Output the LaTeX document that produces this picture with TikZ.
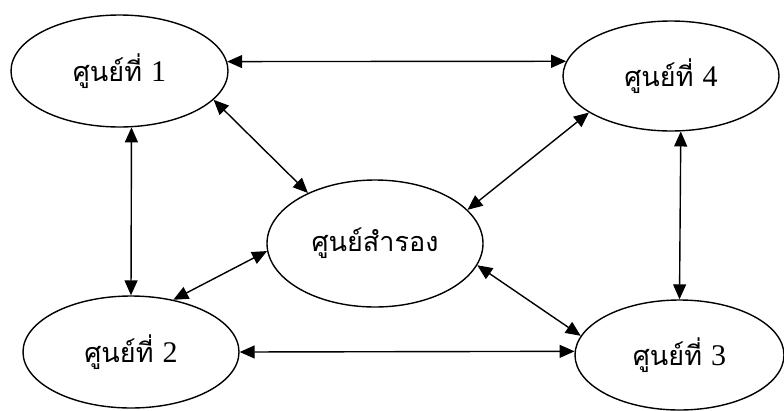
\documentclass[tikz,border=0pt]{standalone}
\usepackage{fontspec}
\newfontfamily\thaifont[Script=Thai]{Loma}
\newfontfamily\numfont{Liberation Serif}
\usetikzlibrary{arrows.meta,shapes.geometric}
\tikzset{centre/.style={draw,ellipse,line width=1.4pt,inner sep=0,font=\thaifont\fontsize{27}{30}\selectfont},
    link/.style={{Triangle[length=15pt,width=13pt]}-{Triangle[length=15pt,width=13pt]},line width=1.4pt}}

\begin{document}
\begin{tikzpicture}[x=1pt,y=-1pt]

\useasboundingbox (0,0) rectangle (784,410);

% the five centres

\node (cen1) at (119.5,71) [centre,minimum width=217pt,minimum height=112pt] {\raisebox{-5pt}{ศูนย์ที่ {\numfont\fontsize{30}{30}\selectfont 1}}};
\node (cen4) at (671,76) [centre,minimum width=216pt,minimum height=110pt] {\raisebox{-5pt}{ศูนย์ที่ {\numfont\fontsize{30}{30}\selectfont 4}}};
\node (spare) at (375,243.5) [centre,minimum width=216pt,minimum height=127pt] {\raisebox{-3pt}{ศูนย์สำรอง}};
\node (cen2) at (131,352) [centre,minimum width=216pt,minimum height=112pt] {\raisebox{-5pt}{ศูนย์ที่ {\numfont\fontsize{30}{30}\selectfont 2}}};
\node (cen3) at (679.5,355) [centre,minimum width=209pt,minimum height=110pt] {\raisebox{-5pt}{ศูนย์ที่ {\numfont\fontsize{30}{30}\selectfont 3}}};

% links between the centres

\draw [link] (cen1.5.1) -- (cen4.172.1);
\draw [link] (cen1.-78.3) -- (cen2.north);
\draw [link] (cen4.-80.7) -- (cen3.north);
\draw [link] (cen2.east) -- (cen3.178.3);

% links to the spare centre

\draw [link] (cen1.-17.2) -- (spare.143.8);
\draw [link] (cen4.204.9) -- (spare.20);
\draw [link] (spare.184) -- (cen2.51.1);
\draw [link] (spare.-12.4) -- (cen3.169.1);

\end{tikzpicture}
\end{document}
